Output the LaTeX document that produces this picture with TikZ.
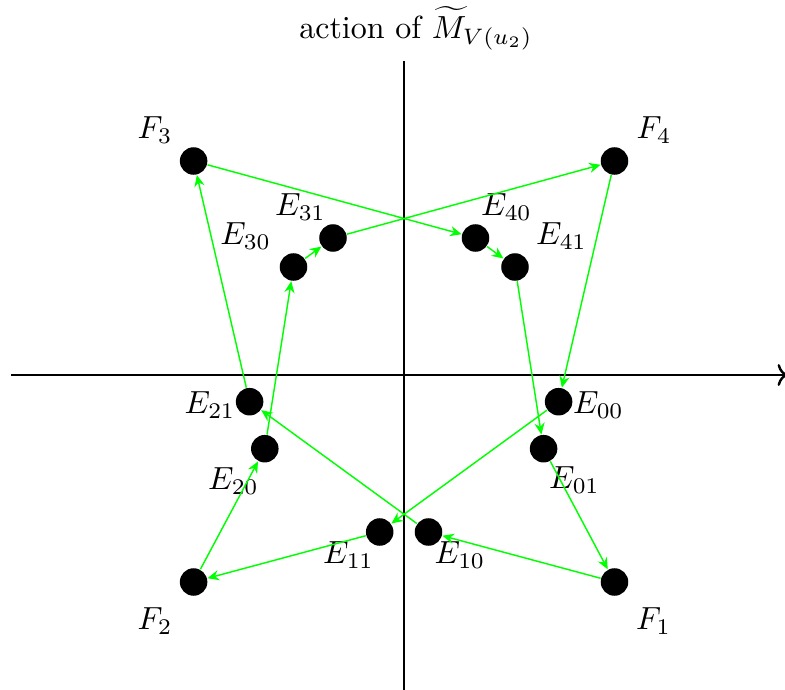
\documentclass[tikz,border=0pt]{standalone}
\usetikzlibrary{arrows.meta}
\begin{document}
\begin{tikzpicture}[x=0.3125pt,y=-0.3125pt,
  dot/.style={circle,fill=black,draw=none,minimum size=8.6pt,inner sep=0pt},
  lbl/.style={inner sep=0pt},
  axis/.style={line width=0.75pt},
  flow/.style={green,line width=0.45pt,-{Stealth[length=3.6pt,width=3.2pt,inset=1.2pt]}}]
\useasboundingbox (0,0) rectangle (785,690);
% axes
\coordinate (xl) at (11,375);
\coordinate (xr) at (788,375);
\coordinate (yt) at (404,61);
\coordinate (yb) at (404,692);
\draw[axis,->] (xl) -- (xr);
\draw[axis] (yt) -- (yb);
% title
\node[lbl] (title) at (416,28) {action of $\widetilde{M}_{V(u_2)}$};
% dots
\node[dot] (F3) at (193.6,161) {};
\node[dot] (F4) at (614.5,161) {};
\node[dot] (F2) at (193.6,582) {};
\node[dot] (F1) at (614.5,582) {};
\node[dot] (E31) at (333,238) {};
\node[dot] (E30) at (293.5,267) {};
\node[dot] (E40) at (475.5,238) {};
\node[dot] (E41) at (515,267) {};
\node[dot] (E21) at (249.6,401.7) {};
\node[dot] (E20) at (264.8,448.7) {};
\node[dot] (E00) at (558.6,401.7) {};
\node[dot] (E01) at (543.6,448.7) {};
\node[dot] (E11) at (379.7,532) {};
\node[dot] (E10) at (428.5,532) {};
% labels
\node[lbl] (lF3) at (155,130) {$F_3$};
\node[lbl] (lF4) at (654,130) {$F_4$};
\node[lbl] (lF2) at (155,621) {$F_2$};
\node[lbl] (lF1) at (653.5,621) {$F_1$};
\node[lbl] (lE31) at (300.5,207) {$E_{31}$};
\node[lbl] (lE30) at (245.7,236) {$E_{30}$};
\node[lbl] (lE40) at (506.5,207) {$E_{40}$};
\node[lbl] (lE41) at (561.5,236) {$E_{41}$};
\node[lbl] (lE21) at (210,405) {$E_{21}$};
\node[lbl] (lE20) at (233.5,481) {$E_{20}$};
\node[lbl] (lE00) at (598.5,405) {$E_{00}$};
\node[lbl] (lE01) at (574.5,480) {$E_{01}$};
\node[lbl] (lE11) at (348.5,555) {$E_{11}$};
\node[lbl] (lE10) at (460,555) {$E_{10}$};
% connectors
\draw[flow] (F3) -- (E40);
\draw[flow] (E40) -- (E41);
\draw[flow] (E41) -- (E01);
\draw[flow] (E01) -- (F1);
\draw[flow] (F1) -- (E10);
\draw[flow] (E10) -- (E21);
\draw[flow] (E21) -- (F3);
\draw[flow] (F2) -- (E20);
\draw[flow] (E20) -- (E30);
\draw[flow] (E30) -- (E31);
\draw[flow] (E31) -- (F4);
\draw[flow] (F4) -- (E00);
\draw[flow] (E00) -- (E11);
\draw[flow] (E11) -- (F2);
\end{tikzpicture}
\end{document}
